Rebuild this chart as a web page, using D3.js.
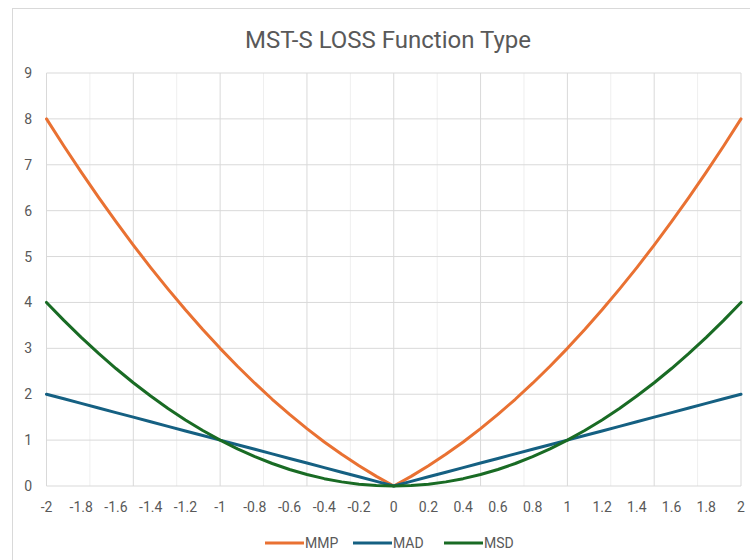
<!DOCTYPE html>
<html>
<head>
<meta charset="utf-8">
<script src="https://cdn.jsdelivr.net/npm/d3@7"></script>
<style>
  body { margin: 0; background: #fff; }
  svg text { font-family: "Roboto", "Liberation Sans", sans-serif; fill: #595959; }
</style>
</head>
<body>
<div id="chart"></div>
<script>
// x categories (-2 .. 2)
const xValues = [-2, -1.9, -1.8, -1.7, -1.6, -1.5, -1.4, -1.3, -1.2, -1.1, -1, -0.9, -0.8, -0.7, -0.6, -0.5, -0.4, -0.3, -0.2, -0.1, 0,
  0.1, 0.2, 0.3, 0.4, 0.5, 0.6, 0.7, 0.8, 0.9, 1, 1.1, 1.2, 1.3, 1.4, 1.5, 1.6, 1.7, 1.8, 1.9, 2];

const mmp = [8, 7.41, 6.84, 6.29, 5.76, 5.25, 4.76, 4.29, 3.84, 3.41, 3, 2.61, 2.24, 1.89, 1.56, 1.25, 0.96, 0.69, 0.44, 0.21, 0,
  0.21, 0.44, 0.69, 0.96, 1.25, 1.56, 1.89, 2.24, 2.61, 3, 3.41, 3.84, 4.29, 4.76, 5.25, 5.76, 6.29, 6.84, 7.41, 8];
const mad = [2, 1.9, 1.8, 1.7, 1.6, 1.5, 1.4, 1.3, 1.2, 1.1, 1, 0.9, 0.8, 0.7, 0.6, 0.5, 0.4, 0.3, 0.2, 0.1, 0,
  0.1, 0.2, 0.3, 0.4, 0.5, 0.6, 0.7, 0.8, 0.9, 1, 1.1, 1.2, 1.3, 1.4, 1.5, 1.6, 1.7, 1.8, 1.9, 2];
const msd = [4, 3.61, 3.24, 2.89, 2.56, 2.25, 1.96, 1.69, 1.44, 1.21, 1, 0.81, 0.64, 0.49, 0.36, 0.25, 0.16, 0.09, 0.04, 0.01, 0,
  0.01, 0.04, 0.09, 0.16, 0.25, 0.36, 0.49, 0.64, 0.81, 1, 1.21, 1.44, 1.69, 1.96, 2.25, 2.56, 2.89, 3.24, 3.61, 4];

const xTickLabels = ["-2", "-1.8", "-1.6", "-1.4", "-1.2", "-1", "-0.8", "-0.6", "-0.4", "-0.2", "0",
  "0.2", "0.4", "0.6", "0.8", "1", "1.2", "1.4", "1.6", "1.8", "2"];
const yTicks = [0, 1, 2, 3, 4, 5, 6, 7, 8, 9];

const series = [
  { name: "MMP", values: mmp, color: "#E97132" },
  { name: "MAD", values: mad, color: "#156082" },
  { name: "MSD", values: msd, color: "#196B24" }
];

const width = 750, height = 560;
const svg = d3.select("#chart").append("svg")
  .attr("width", width)
  .attr("height", height);

// chart frame
svg.append("rect")
  .attr("x", 12.5).attr("y", 8.5)
  .attr("width", 760).attr("height", 600)
  .attr("fill", "#fff")
  .attr("stroke", "#d9d9d9");

const x = d3.scaleLinear().domain([-2, 2]).range([46.5, 741]);
const y = d3.scaleLinear().domain([0, 9]).range([486, 73]);

// title
svg.append("text")
  .attr("x", 388).attr("y", 48)
  .attr("text-anchor", "middle")
  .attr("textLength", 286)
  .attr("lengthAdjust", "spacingAndGlyphs")
  .style("font-size", "23px")
  .text("MST-S LOSS Function Type");

// vertical gridlines every 0.25
const vGrid = d3.range(-2, 2.001, 0.25);
svg.append("g").selectAll("line")
  .data(vGrid)
  .enter().append("line")
  .attr("x1", d => x(d)).attr("x2", d => x(d))
  .attr("y1", y(9)).attr("y2", y(0))
  .attr("stroke", d => Math.abs(d * 2 - Math.round(d * 2)) < 1e-6 ? "#d9d9d9" : "#efefef")
  .attr("stroke-width", 1);

// horizontal gridlines
svg.append("g").selectAll("line")
  .data(yTicks)
  .enter().append("line")
  .attr("x1", x(-2)).attr("x2", x(2))
  .attr("y1", d => y(d)).attr("y2", d => y(d))
  .attr("stroke", "#d9d9d9");

// y labels
svg.append("g").selectAll("text")
  .data(yTicks)
  .enter().append("text")
  .attr("x", 32).attr("y", d => y(d) + 5)
  .attr("text-anchor", "end")
  .style("font-size", "14px")
  .text(d => d);

// x labels
svg.append("g").selectAll("text")
  .data(xTickLabels)
  .enter().append("text")
  .attr("x", d => x(+d)).attr("y", 512)
  .attr("text-anchor", "middle")
  .style("font-size", "14px")
  .text(d => d);

// lines
const line = d3.line()
  .x((d, i) => x(xValues[i]))
  .y(d => y(d));

svg.append("g").selectAll("path")
  .data(series)
  .enter().append("path")
  .attr("d", d => line(d.values))
  .attr("fill", "none")
  .attr("stroke", d => d.color)
  .attr("stroke-width", 3)
  .attr("stroke-linejoin", "round")
  .attr("stroke-linecap", "round");

// legend
const legendX = [265, 353, 444];
const legend = svg.append("g").selectAll("g")
  .data(series)
  .enter().append("g")
  .attr("transform", (d, i) => `translate(${legendX[i]},543)`);
legend.append("line")
  .attr("x1", 0).attr("x2", 39)
  .attr("stroke", d => d.color)
  .attr("stroke-width", 3);
legend.append("text")
  .attr("x", 40).attr("y", 5)
  .style("font-size", "14px")
  .text(d => d.name);
</script>
</body>
</html>
